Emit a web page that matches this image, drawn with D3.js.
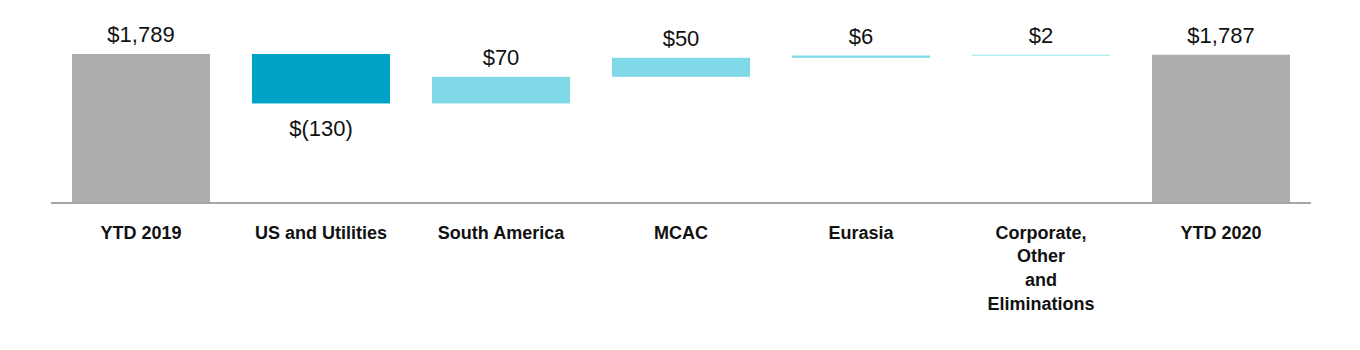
<!DOCTYPE html>
<html>
<head>
<meta charset="utf-8">
<script src="https://cdn.jsdelivr.net/npm/d3@7"></script>
<style>
  html, body { margin: 0; padding: 0; background: #fff; }
  svg { display: block; }
</style>
</head>
<body>
<svg id="chart" width="1360" height="350"></svg>
<script>
// ---- data ----
const categories = ["YTD 2019", "US and Utilities", "South America", "MCAC", "Eurasia", "Corporate, Other and Eliminations", "YTD 2020"];
const categoryLines = [["YTD 2019"], ["US and Utilities"], ["South America"], ["MCAC"], ["Eurasia"], ["Corporate,", "Other", "and", "Eliminations"], ["YTD 2020"]];
const values = [1789, -130, 70, 50, 6, 2, 1787];
const kinds = ["total", "delta", "delta", "delta", "delta", "delta", "total"];
const valueLabels = ["$1,789", "$(130)", "$70", "$50", "$6", "$2", "$1,787"];
const yDomain = [1400, 1789];

// ---- build waterfall ----
let running = 0;
const bars = categories.map((c, i) => {
  let y0, y1;
  if (kinds[i] === "total") { y0 = yDomain[0]; y1 = values[i]; running = values[i]; }
  else { y0 = running; y1 = running + values[i]; running = y1; }
  return { cat: c, lines: categoryLines[i], v: values[i], kind: kinds[i], lo: Math.min(y0, y1), hi: Math.max(y0, y1), label: valueLabels[i] };
});

const svg = d3.select("#chart");
const x = d3.scaleBand().domain(categories).range([51, 1311]).paddingInner(0.233).paddingOuter(0.1165);
const y = d3.scaleLinear().domain(yDomain).range([202, 54]);

const color = d => d.kind === "total" ? "#adadad" : (d.v < 0 ? "#00a3c8" : "#7fd9e7");

svg.selectAll("rect.bar").data(bars).enter().append("rect")
  .attr("class", "bar")
  .attr("x", d => x(d.cat))
  .attr("width", x.bandwidth())
  .attr("y", d => y(d.hi))
  .attr("height", d => y(d.lo) - y(d.hi))
  .attr("fill", color);

// axis line
svg.append("line")
  .attr("x1", x.range()[0]).attr("x2", x.range()[1])
  .attr("y1", y(yDomain[0]) + 1).attr("y2", y(yDomain[0]) + 1)
  .attr("stroke", "#a6a6a6").attr("stroke-width", 2);

// value labels
svg.selectAll("text.val").data(bars).enter().append("text")
  .attr("class", "val")
  .attr("x", d => x(d.cat) + x.bandwidth() / 2)
  .attr("y", d => d.v < 0 && d.kind === "delta" ? y(d.lo) + 33 : y(d.hi) - 12)
  .attr("text-anchor", "middle")
  .attr("font-family", "'Liberation Sans', Arial, sans-serif")
  .attr("font-size", 22)
  .attr("fill", "#111")
  .text(d => d.label);

// category labels
const cl = svg.selectAll("text.cat").data(bars).enter().append("text")
  .attr("class", "cat")
  .attr("text-anchor", "middle")
  .attr("font-family", "'Liberation Sans', Arial, sans-serif")
  .attr("font-weight", "bold")
  .attr("font-size", 18)
  .attr("fill", "#111")
  .attr("transform", d => `translate(${x(d.cat) + x.bandwidth() / 2},238.5)`);
cl.selectAll("tspan").data(d => d.lines).enter().append("tspan")
  .attr("x", 0)
  .attr("y", (s, i) => i * 23.7)
  .text(s => s);
</script>
</body>
</html>
